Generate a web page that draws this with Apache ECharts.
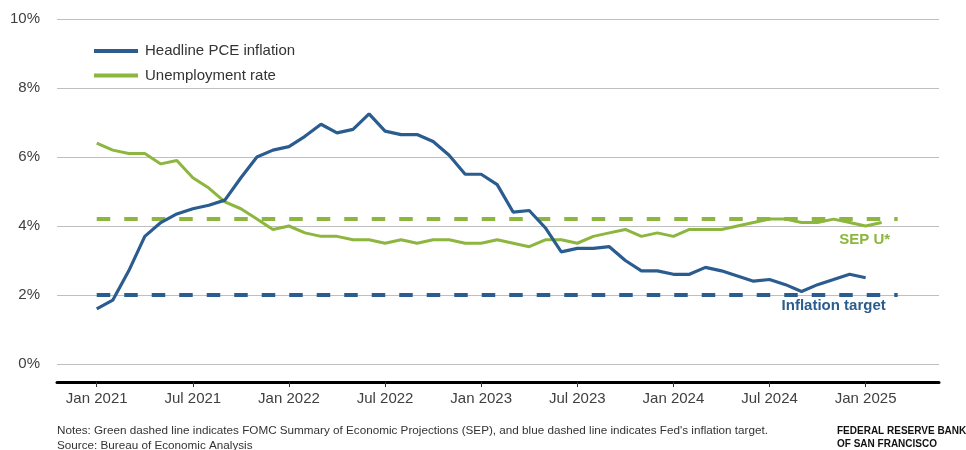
<!DOCTYPE html>
<html>
<head>
<meta charset="utf-8">
<script src="https://cdn.jsdelivr.net/npm/echarts@6/dist/echarts.min.js"></script>
<style>html,body{margin:0;padding:0;background:#fff;}#c{width:966px;height:450px;}</style>
</head>
<body>
<div id="c"></div>
<script>
// Months (Jan 2021 .. Mar 2025)
const months = [
  'Jan 2021','Feb 2021','Mar 2021','Apr 2021','May 2021','Jun 2021','Jul 2021','Aug 2021','Sep 2021','Oct 2021','Nov 2021','Dec 2021',
  'Jan 2022','Feb 2022','Mar 2022','Apr 2022','May 2022','Jun 2022','Jul 2022','Aug 2022','Sep 2022','Oct 2022','Nov 2022','Dec 2022',
  'Jan 2023','Feb 2023','Mar 2023','Apr 2023','May 2023','Jun 2023','Jul 2023','Aug 2023','Sep 2023','Oct 2023','Nov 2023','Dec 2023',
  'Jan 2024','Feb 2024','Mar 2024','Apr 2024','May 2024','Jun 2024','Jul 2024','Aug 2024','Sep 2024','Oct 2024','Nov 2024','Dec 2024',
  'Jan 2025','Feb 2025','Mar 2025'
];
// Headline PCE inflation, % y/y (Jan 2021 .. Jan 2025)
const pceInflation = [
  1.6, 1.85, 2.7, 3.7, 4.1, 4.35, 4.5, 4.6, 4.75, 5.4, 6.0, 6.2,
  6.3, 6.6, 6.95, 6.7, 6.8, 7.25, 6.75, 6.65, 6.65, 6.45, 6.05, 5.5,
  5.5, 5.2, 4.4, 4.45, 3.95, 3.25, 3.35, 3.35, 3.4, 3.0, 2.7, 2.7,
  2.6, 2.6, 2.8, 2.7, 2.55, 2.4, 2.45, 2.3, 2.1, 2.3, 2.45, 2.6,
  2.5
];
// Unemployment rate, % (Jan 2021 .. Feb 2025)
const unemploymentRate = [
  6.4, 6.2, 6.1, 6.1, 5.8, 5.9, 5.4, 5.1, 4.7, 4.5, 4.2, 3.9,
  4.0, 3.8, 3.7, 3.7, 3.6, 3.6, 3.5, 3.6, 3.5, 3.6, 3.6, 3.5,
  3.5, 3.6, 3.5, 3.4, 3.6, 3.6, 3.5, 3.7, 3.8, 3.9, 3.7, 3.8,
  3.7, 3.9, 3.9, 3.9, 4.0, 4.1, 4.2, 4.2, 4.1, 4.1, 4.2, 4.1,
  4.0, 4.1
];
// Reference levels and their span (first / last month)
const sepUStar = 4.2;
const inflationTarget = 2.0;
const refSpan = ['Jan 2021', 'Mar 2025'];
// Axis tick labels
const xTickLabels = ['Jan 2021','Jul 2021','Jan 2022','Jul 2022','Jan 2023','Jul 2023','Jan 2024','Jul 2024','Jan 2025'];
const yTicks = [0, 2, 4, 6, 8, 10];

const BLUE = '#2b5c8f';
const GREEN = '#8cb63e';
const FONT = '"Liberation Sans", Arial, sans-serif';
const idx = m => months.indexOf(m);
const toPts = arr => arr.map((v, i) => [i, v]);
const refLine = v => refSpan.map(m => [idx(m), v]);
const tickVals = xTickLabels.map(idx);

const chart = echarts.init(document.getElementById('c'), null, {renderer: 'canvas'});
chart.setOption({
  animation: false,
  backgroundColor: '#fff',
  textStyle: {fontFamily: FONT},
  grid: {left: 57, right: 27, top: 19, bottom: 86, containLabel: false},
  legend: {
    orient: 'vertical', left: 89, top: 37,
    itemWidth: 44, itemHeight: 4, itemGap: 6.5, icon: 'rect',
    textStyle: {fontSize: 15, color: '#333', lineHeight: 18, padding: [0, 0, 0, 2], fontFamily: FONT},
    data: ['Headline PCE inflation', 'Unemployment rate']
  },
  xAxis: {
    type: 'value', min: -2.48, max: 52.58, offset: 18,
    axisLine: {show: true, onZero: false, lineStyle: {color: '#000', width: 3}},
    axisTick: {show: true, customValues: tickVals, length: 5, lineStyle: {color: '#333', width: 1}},
    axisLabel: {customValues: tickVals, formatter: v => months[Math.round(v)], fontSize: 15, color: '#404040', margin: 9, fontFamily: FONT},
    splitLine: {show: false}
  },
  yAxis: {
    type: 'value', min: yTicks[0], max: yTicks[yTicks.length - 1], interval: 2,
    axisLine: {show: false}, axisTick: {show: false},
    axisLabel: {formatter: '{value}%', fontSize: 15, color: '#404040', margin: 17, fontFamily: FONT},
    splitLine: {lineStyle: {color: '#bfbfbf', width: 1}}
  },
  series: [
    {
      name: 'SEP U*', type: 'line', data: refLine(sepUStar), symbol: 'none', silent: true,
      lineStyle: {color: GREEN, width: 4, type: [13.5, 14]},
      markPoint: {symbol: 'circle', symbolSize: 0, silent: true,
        data: [{coord: [idx(refSpan[1]), sepUStar], label: {show: true, formatter: 'SEP U*', offset: [-33, 21], color: GREEN, fontWeight: 'bold', fontSize: 15, fontFamily: FONT}}]}
    },
    {
      name: 'Inflation target', type: 'line', data: refLine(inflationTarget), symbol: 'none', silent: true,
      lineStyle: {color: BLUE, width: 4, type: [13.5, 14]},
      markPoint: {symbol: 'circle', symbolSize: 0, silent: true,
        data: [{coord: [idx(refSpan[1]), inflationTarget], label: {show: true, formatter: 'Inflation target', offset: [-64, 11], color: BLUE, fontWeight: 'bold', fontSize: 15, fontFamily: FONT}}]}
    },
    {
      name: 'Unemployment rate', type: 'line', data: toPts(unemploymentRate), symbol: 'none',
      itemStyle: {color: GREEN}, lineStyle: {color: GREEN, width: 3}
    },
    {
      name: 'Headline PCE inflation', type: 'line', data: toPts(pceInflation), symbol: 'none',
      itemStyle: {color: BLUE}, lineStyle: {color: BLUE, width: 3.2}
    }
  ],
  graphic: [
    {type: 'text', left: 57, top: 425, style: {text: "Notes: Green dashed line indicates FOMC Summary of Economic Projections (SEP), and blue dashed line indicates Fed's inflation target.", font: '11.7px "Liberation Sans", Arial, sans-serif', fill: '#333'}},
    {type: 'text', left: 57, top: 440, style: {text: 'Source: Bureau of Economic Analysis', font: '11.7px "Liberation Sans", Arial, sans-serif', fill: '#333'}},
    {type: 'text', left: 837, top: 426, style: {text: 'FEDERAL RESERVE BANK', font: 'bold 10px "Liberation Sans", Arial, sans-serif', fill: '#111'}},
    {type: 'text', left: 837, top: 439, style: {text: 'OF SAN FRANCISCO', font: 'bold 10px "Liberation Sans", Arial, sans-serif', fill: '#111'}}
  ]
});
</script>
</body>
</html>
